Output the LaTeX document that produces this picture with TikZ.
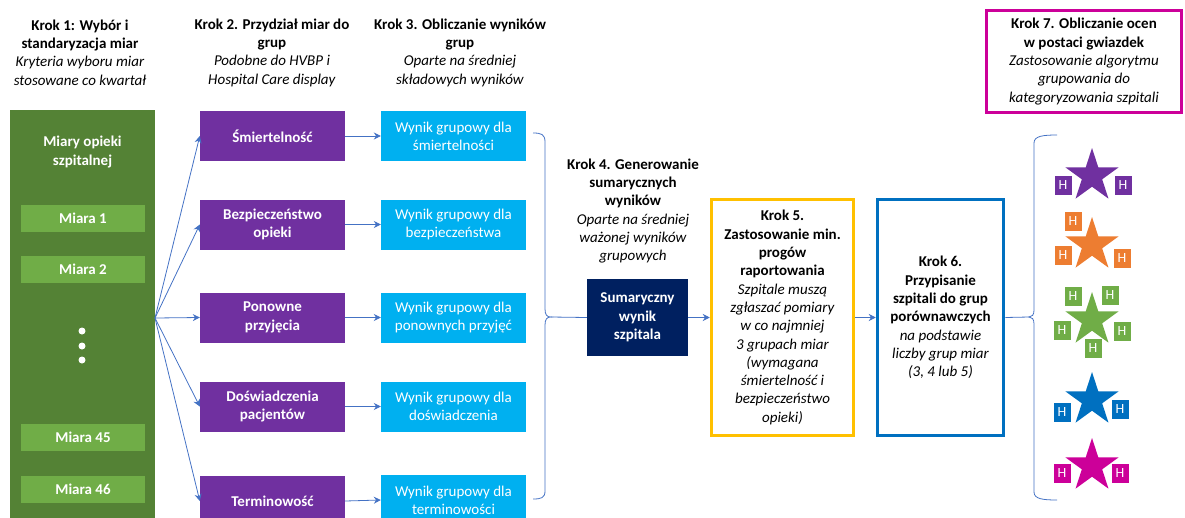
\documentclass[tikz,border=0pt]{standalone}
\usepackage{fontspec}
\setmainfont{Carlito}
\usetikzlibrary{arrows.meta,shapes.geometric}
\definecolor{dgreen}{HTML}{548235}
\definecolor{lgreen}{HTML}{70AD47}
\definecolor{purp}{HTML}{7030A0}
\definecolor{cyanb}{HTML}{00B0F0}
\definecolor{navy}{HTML}{002060}
\definecolor{yell}{HTML}{FFC000}
\definecolor{blueb}{HTML}{0070C0}
\definecolor{magb}{HTML}{CC0099}
\definecolor{orng}{HTML}{ED7D31}
\definecolor{conc}{HTML}{4472C4}
\begin{document}
\begin{tikzpicture}[x=1pt,y=-1pt,
  every node/.style={font=\fontsize{15}{18.3}\selectfont},
  hdr/.style={align=center, text=black},
  measbox/.style={fill=lgreen, minimum width=124pt, minimum height=27pt, inner sep=0pt, text=white, font=\fontsize{15}{18.3}\selectfont\bfseries},
  grpbox/.style={fill=purp, minimum width=145pt, minimum height=50pt, inner sep=0pt, align=center, text=white, font=\fontsize{15}{18.3}\selectfont\bfseries},
  resbox/.style={fill=cyanb, minimum width=145pt, minimum height=50pt, inner sep=0pt, align=center, text=white},
  stepframe/.style={line width=3.5pt, fill=white, inner sep=0pt, align=center},
  conn/.style={draw=conc, line width=0.8pt},
  arr/.style={conn, -{Stealth[length=7pt,width=7pt]}},
  hsq/.style={minimum width=17pt, minimum height=19pt, inner sep=0pt, text=white, font=\fontsize{14}{15}\selectfont},
  starn/.style={star, star points=5, star point ratio=2.618, minimum size=56pt, inner sep=0pt}
]
\useasboundingbox (0,0) rectangle (1185,517);
\clip (0,0) rectangle (1185,517);

% headers
\node[hdr] (h1) at (80,52.5) {\textbf{Krok 1: Wybór i}\\\textbf{standaryzacja miar}\\\textit{Kryteria wyboru miar}\\\textit{stosowane co kwartał}};
\node[hdr] (h2) at (272,52.5) {\textbf{Krok 2. Przydział miar do}\\\textbf{grup}\\\textit{Podobne do HVBP i}\\\textit{Hospital Care display}};
\node[hdr] (h3) at (460,52.5) {\textbf{Krok 3. Obliczanie wyników}\\\textbf{grup}\\\textit{Oparte na średniej}\\\textit{składowych wyników}};

% green column
\node[fill=dgreen, minimum width=145pt, minimum height=440pt, inner sep=0pt] (col) at (82.5,330) {};
\node[text=white, align=center, font=\fontsize{15}{18.3}\selectfont\bfseries] (coltitle) at (82.5,152) {Miary opieki\\szpitalnej};
\node[measbox] (m1) at (83,218) {Miara 1};
\node[measbox] (m2) at (83,269.5) {Miara 2};
\node[measbox] (m45) at (83,437.5) {Miara 45};
\node[measbox] (m46) at (83,489) {Miara 46};
\foreach \yy/\nm in {331/d1,346/d2,360/d3}
  \node[circle, fill=white, minimum size=7pt, inner sep=0pt] (\nm) at (82,\yy) {};

% group boxes
\node[grpbox] (p1) at (272.5,136) {Śmiertelność};
\node[grpbox] (p2) at (272.5,224.5) {Bezpieczeństwo\\opieki};
\node[grpbox] (p3) at (272.5,317.5) {Ponowne\\przyjęcia};
\node[grpbox] (p4) at (272.5,406.5) {Doświadczenia\\pacjentów};
\node[grpbox] (p5) at (272.5,501) {Terminowość};

\node[resbox] (r1) at (453.5,136) {Wynik grupowy dla\\śmiertelności};
\node[resbox] (r2) at (453.5,224.5) {Wynik grupowy dla\\bezpieczeństwa};
\node[resbox] (r3) at (453.5,317.5) {Wynik grupowy dla\\ponownych przyjęć};
\node[resbox] (r4) at (453.5,406.5) {Wynik grupowy dla\\doświadczenia};
\node[resbox] (r5) at (453.5,500) {Wynik grupowy dla\\terminowości};

\coordinate (fan) at (155,318);
\foreach \i in {1,...,5} {
  \draw[arr] (fan) -- (p\i.west);
  \draw[arr] (p\i.east) -- (r\i.west);
}

% left brace
\coordinate (lbtip) at (551,317);
\draw[conn] (533,133) .. controls (541,133) and (545,134) .. (545,142) -- (545,309)
  .. controls (545,315) and (547,317) .. (lbtip)
  .. controls (547,317) and (545,319) .. (545,325) -- (545,491)
  .. controls (545,498) and (541,499) .. (533,499);

% step 4
\node[hdr] (h4) at (633,211) {\textbf{Krok 4. Generowanie}\\\textbf{sumarycznych}\\\textbf{wyników}\\\textit{Oparte na średniej}\\\textit{ważonej wyników}\\\textit{grupowych}};
\node[fill=navy, minimum width=101pt, minimum height=77pt, inner sep=0pt, align=center, text=white, font=\fontsize{15}{18.3}\selectfont\bfseries] (sum) at (637.5,317.5) {Sumaryczny\\wynik\\szpitala};
\draw[conn] (lbtip) -- (sum.west);

% step 5
\node[stepframe, draw=yell, minimum width=142pt, minimum height=236pt] (k5) at (782.5,317.5) {\textbf{Krok 5.}\\\textbf{Zastosowanie min.}\\\textbf{progów}\\\textbf{raportowania}\\\textit{Szpitale muszą}\\\textit{zgłaszać pomiary}\\\textit{w co najmniej}\\\textit{3 grupach miar}\\\textit{(wymagana}\\\textit{śmiertelność i}\\\textit{bezpieczeństwo}\\\textit{opieki)}};
\draw[arr] (sum.east) -- (k5.west);

% step 6
\node[stepframe, draw=blueb, minimum width=126pt, minimum height=236pt] (k6) at (940.5,317.5) {\textbf{Krok 6.}\\\textbf{Przypisanie}\\\textbf{szpitali do grup}\\\textbf{porównawczych}\\\textit{na podstawie}\\\textit{liczby grup miar}\\\textit{(3, 4 lub 5)}};
\draw[arr] (k5.east) -- (k6.west);

% step 7
\node[stepframe, draw=magb, minimum width=195pt, minimum height=102pt] (k7) at (1084,61.5) {\textbf{Krok 7. Obliczanie ocen}\\\textbf{w postaci gwiazdek}\\\textit{Zastosowanie algorytmu}\\\textit{grupowania do}\\\textit{kategoryzowania szpitali}};

% right brace
\coordinate (rbtip) at (1029,317);
\draw[conn] (1057,135) .. controls (1043,135) and (1034,136) .. (1034,143) -- (1034,310)
  .. controls (1034,315) and (1032,317) .. (rbtip)
  .. controls (1032,317) and (1034,319) .. (1034,324) -- (1034,492)
  .. controls (1034,499) and (1043,500) .. (1057,500);
\draw[conn] (k6.east) -- (rbtip);

% stars
\node[starn, fill=purp] (s1) at (1092,176) {};
\node[hsq, fill=purp] (s1a) at (1063,185) {H};
\node[hsq, fill=purp] (s1b) at (1123,185) {H};

\node[starn, fill=orng] (s2) at (1092,245) {};
\node[hsq, fill=orng] (s2a) at (1073,221) {H};
\node[hsq, fill=orng] (s2b) at (1063,255) {H};
\node[hsq, fill=orng] (s2c) at (1122,258) {H};

\node[starn, fill=lgreen] (s3) at (1092,320) {};
\node[hsq, fill=lgreen] (s3a) at (1073,296) {H};
\node[hsq, fill=lgreen] (s3b) at (1110,295) {H};
\node[hsq, fill=lgreen] (s3c) at (1062,330) {H};
\node[hsq, fill=lgreen] (s3d) at (1122,331) {H};
\node[hsq, fill=lgreen] (s3e) at (1093,348) {H};

\node[starn, fill=blueb] (s4) at (1092,400) {};
\node[hsq, fill=blueb] (s4a) at (1062,412) {H};
\node[hsq, fill=blueb] (s4b) at (1120,409) {H};

\node[starn, fill=magb] (s5) at (1092,466) {};
\node[hsq, fill=magb] (s5a) at (1062,473) {H};
\node[hsq, fill=magb] (s5b) at (1120,473) {H};
\end{tikzpicture}
\end{document}
